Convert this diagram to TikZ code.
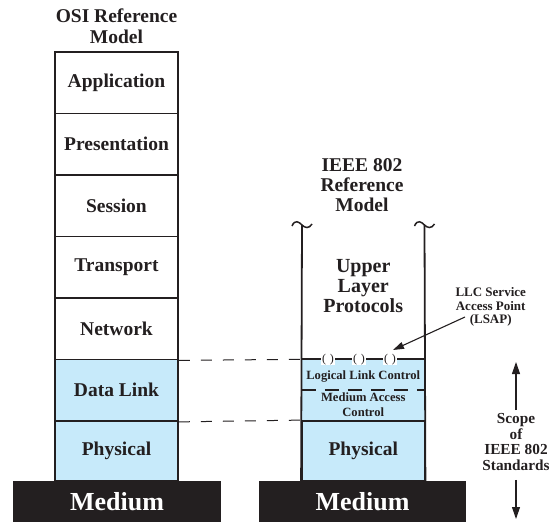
\documentclass[tikz,border=0pt]{standalone}
\usepackage{fontspec}
\setmainfont{Liberation Serif}
\usetikzlibrary{arrows.meta}
\definecolor{ink}{RGB}{35,31,32}
\definecolor{layerblue}{RGB}{199,234,250}

\begin{document}
\begin{tikzpicture}[x=1pt,y=-1pt,
  every node/.style={text=ink},
  layer/.style={draw=ink, line width=1.8pt, minimum width=123pt, inner sep=0pt,
    font=\fontsize{19.5}{20}\selectfont\bfseries},
  title/.style={align=center, inner sep=0pt, font=\fontsize{19.5}{20}\selectfont\bfseries},
  medium/.style={fill=ink, minimum height=41pt, inner sep=0pt, text=white,
    font=\fontsize{26}{26}\selectfont\bfseries},
  stackline/.style={draw=ink, line width=1.8pt},
  guide/.style={draw=ink, line width=1pt, dash pattern=on 11pt off 11pt},
  sublayer/.style={draw=ink, line width=2.2pt, dash pattern=on 14pt off 9pt},
  small/.style={align=center, inner sep=0pt, font=\fontsize{12.6}{15}\selectfont\bfseries},
  note/.style={align=center, inner sep=0pt, font=\fontsize{13}{13.2}\selectfont\bfseries},
  scopetext/.style={align=center, inner sep=3pt, font=\fontsize{15.3}{15.7}\selectfont\bfseries},
  sap/.style={fill=white, inner xsep=1pt, inner ysep=0.3pt, font=\fontsize{12}{12}\selectfont\mdseries},
  arrow/.style={draw=ink, line width=1.1pt, -{Triangle[length=12pt,width=8pt]}},
  tilde/.pic={\draw[draw=ink, line width=1.5pt] (-10,1) .. controls (-7,-6) and (-3,-3) .. (0,0) .. controls (3,3) and (7,4) .. (10,-1);}
]
\useasboundingbox (0,0) rectangle (550,522);

% OSI stack
\node[title, font=\fontsize{19.5}{21}\selectfont\bfseries] (osititle) at (116.5,26) {OSI Reference\\Model};
\node[layer, minimum height=61.5pt] (app) at (116.5,82.75) {Application};
\node[layer, minimum height=61.5pt] (pres) at (116.5,144.25) {Presentation};
\node[layer, minimum height=61.5pt] (sess) at (116.5,205.75) {Session};
\node[layer, minimum height=61.5pt] (trans) at (116.5,267.25) {Transport};
\node[layer, minimum height=61.5pt] (net) at (116.5,328.75) {Network};
\node[layer, minimum height=61.5pt, fill=layerblue] (dl) at (116.5,390.25) {Data Link};
\node[layer, minimum height=60pt, fill=layerblue] (phys) at (116.5,451) {Physical};

% IEEE 802 stack
\node[title] (ieeetitle) at (362,185.5) {IEEE 802\\Reference\\Model};
\node[fill=layerblue, minimum width=122.5pt, minimum height=61.5pt, inner sep=0pt] (dl2) at (363.25,390.25) {};
\node[layer, minimum width=122.5pt, minimum height=60pt, fill=layerblue] (phys2) at (363.25,451) {Physical};
\coordinate (tl) at (302,225);
\coordinate (tr) at (424.5,225);
\draw[stackline] (tl) -- (phys2.south west);
\draw[stackline] (tr) -- (phys2.south east);
\pic at (tl) {tilde};
\pic at (tr) {tilde};
\draw[stackline] (dl2.north west) -- (dl2.north east);
\draw[sublayer] (dl2.west) -- (dl2.east);
\node[title, font=\fontsize{20}{20}\selectfont\bfseries] (ulp) at (363.25,286.2) {Upper\\Layer\\Protocols};
\node[small] (llc) at (363.25,377) {Logical Link Control};
\node[small] (mac) at (363.25,405) {Medium Access\\Control};
\node[sap] (s1) at (328,359.5) {(\hspace{4pt})};
\node[sap] (s2) at (359,359.5) {(\hspace{4pt})};
\node[sap] (s3) at (390,359.5) {(\hspace{4pt})};

% media
\node[medium, minimum width=208pt] (med1) at (117,501.5) {Medium};
\node[medium, minimum width=207pt] (med2) at (362.5,501.5) {Medium};

% correspondence guides
\draw[guide] (net.south east) -- (dl2.north west);
\draw[guide] (dl.south east) -- (phys2.north west);

% LSAP label
\node[note] (lsap) at (490.7,307) {LLC Service\\Access Point\\(LSAP)};
\coordinate (lsaptail) at (465,317);
\coordinate (lsaptip) at (393,350);
\draw[arrow, -{Triangle[length=11pt,width=7pt]}] (lsaptail) -- (lsaptip);

% scope
\node[scopetext] (scope) at (516,442) {Scope\\of\\IEEE 802\\Standards};
\coordinate (scopetop) at (516,362);
\coordinate (scopebot) at (516,519);
\draw[arrow] (scope.north) -- (scopetop);
\draw[arrow, shorten <=6pt] (scope.south) -- (scopebot);
\end{tikzpicture}
\end{document}
